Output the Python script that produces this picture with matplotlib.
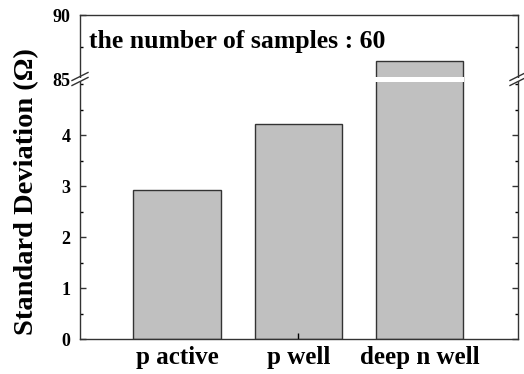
import matplotlib.pyplot as plt
from matplotlib.patches import Rectangle
from matplotlib.ticker import MultipleLocator

plt.rcParams['font.family'] = ['Liberation Serif', 'DejaVu Serif']
plt.rcParams['font.weight'] = 'bold'

categories = ['p active', 'p well', 'deep n well']
std_dev = [2.92, 4.21, 86.4]
n_samples = 60

fig = plt.figure(figsize=(5.24, 3.74), dpi=100)
L, R = 80 / 524, 518 / 524
y0, yb, yt = 35 / 374, 295 / 374, 359 / 374
ax_bot = fig.add_axes([L, y0, R - L, yb - y0])
ax_top = fig.add_axes([L, yb, R - L, yt - yb])

x = [1, 2, 3]
for ax in (ax_bot, ax_top):
    ax.bar(x, std_dev, width=0.72, color='#c0c0c0', edgecolor='#333333', linewidth=1.0)
    ax.set_xlim(0.2, 3.81)
    for s in ax.spines.values():
        s.set_linewidth(1.0)
        s.set_color('#333333')
    ax.tick_params(axis='y', direction='in', right=True, length=4, width=1, pad=7,
                   labelsize=13, colors='#333333', labelcolor='black')
    ax.tick_params(axis='y', which='minor', direction='in', right=True, length=2.5, width=1)

ax_bot.set_ylim(0, 5.1)
ax_bot.yaxis.set_major_locator(MultipleLocator(1))
ax_bot.yaxis.set_minor_locator(MultipleLocator(0.5))
ax_bot.set_yticks([0, 1, 2, 3, 4])
ax_bot.spines['top'].set_visible(False)
ax_bot.set_xticks(x)
ax_bot.set_xticklabels(categories, fontsize=18, fontweight='bold')
ax_bot.tick_params(axis='x', direction='in', length=4, width=1, pad=5)
for i, t in enumerate(ax_bot.xaxis.get_major_ticks()):
    if i != 1:
        t.tick1line.set_visible(False)

ax_top.set_ylim(85, 90)
ax_top.set_yticks([85, 90])
ax_top.yaxis.set_minor_locator(MultipleLocator(2.5))
ax_top.spines['bottom'].set_visible(False)
ax_top.set_xticks([])

# white gap through the tall bar and slashes on both spines at the break
bw = 0.72 * (R - L) / 3.61
bx = L + (3 - 0.2) / 3.61 * (R - L) - bw / 2
fig.patches.append(Rectangle((bx - 0.002, yb - 3 / 374), bw + 0.004, 5 / 374,
                             transform=fig.transFigure, facecolor='white',
                             edgecolor='none', zorder=5))
for xs in (L, R):
    for dy in (-2.5, 2.5):
        fig.lines.append(plt.Line2D([xs - 8 / 524, xs + 8 / 524],
                                    [yb + (dy - 4) / 374, yb + (dy + 4) / 374],
                                    transform=fig.transFigure, color='#333333',
                                    linewidth=1.0, zorder=6))
    fig.patches.append(Rectangle((xs - 8 / 524, yb - 1.5 / 374), 16 / 524, 2 / 374,
                                 transform=fig.transFigure, facecolor='white',
                                 edgecolor='none', zorder=5))

ax_top.text(0.02, 0.58, f'the number of samples : {n_samples}', transform=ax_top.transAxes,
            fontsize=18.5, fontweight='bold', va='center', ha='left')

fig.text(27 / 524, 182 / 374, 'Standard Deviation (Ω)', rotation=90,
         fontsize=20.5, fontweight='bold', ha='center', va='center')

fig.savefig('out.png', dpi=100)
